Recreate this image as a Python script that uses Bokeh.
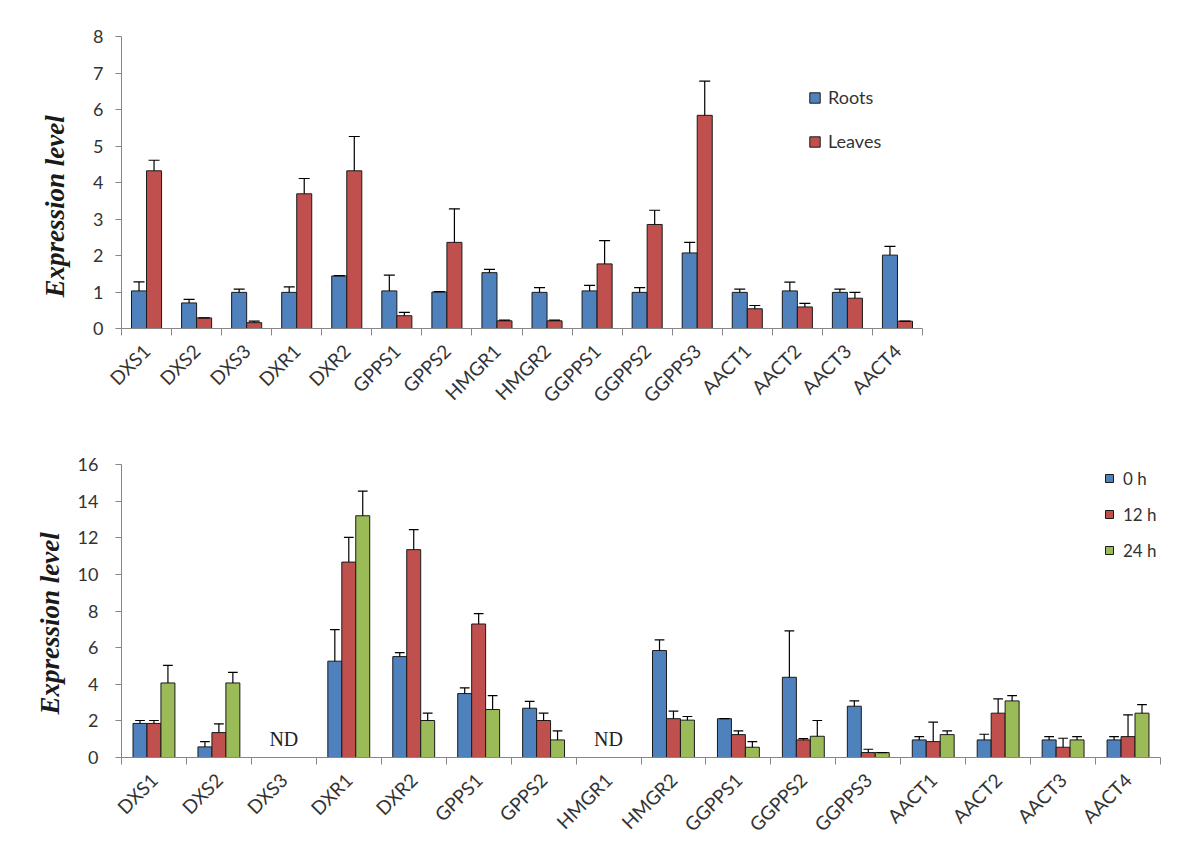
import numpy as np
from bokeh.plotting import figure
from bokeh.layouts import column
from bokeh.models import Range1d, FixedTicker, Legend, LegendItem, ColumnDataSource, Title
from bokeh.core.properties import value
from bokeh.embed import file_html
from bokeh.resources import INLINE

# ---------------- data ----------------
genes_top = ["DXS1", "DXS2", "DXS3", "DXR1", "DXR2", "GPPS1", "GPPS2", "HMGR1",
             "HMGR2", "GGPPS1", "GGPPS2", "GGPPS3", "AACT1", "AACT2", "AACT3", "AACT4"]
roots = [1.03, 0.70, 0.99, 0.99, 1.44, 1.03, 1.00, 1.53, 0.99, 1.03, 0.99, 2.07, 0.99, 1.03, 0.99, 2.01]
roots_err = [1.28, 0.80, 1.08, 1.14, 1.45, 1.46, 1.01, 1.62, 1.12, 1.18, 1.12, 2.36, 1.08, 1.27, 1.08, 2.25]
leaves = [4.32, 0.29, 0.16, 3.69, 4.32, 0.35, 2.36, 0.21, 0.21, 1.77, 2.85, 5.84, 0.54, 0.59, 0.83, 0.20]
leaves_err = [4.61, 0.29, 0.20, 4.11, 5.26, 0.44, 3.28, 0.23, 0.23, 2.41, 3.24, 6.78, 0.63, 0.69, 0.99, 0.20]

genes_bot = ["DXS1", "DXS2", "DXS3", "DXR1", "DXR2", "GPPS1", "GPPS2", "HMGR1",
             "HMGR2", "GGPPS1", "GGPPS2", "GGPPS3", "AACT1", "AACT2", "AACT3", "AACT4"]
nd = float("nan")
h0 = [1.86, 0.58, nd, 5.26, 5.51, 3.49, 2.69, nd, 5.84, 2.12, 4.38, 2.80, 0.96, 0.96, 0.96, 0.96]
h0_err = [2.02, 0.87, nd, 6.98, 5.73, 3.80, 3.07, nd, 6.42, 2.12, 6.91, 3.09, 1.14, 1.27, 1.14, 1.14]
h12 = [1.86, 1.36, nd, 10.67, 11.35, 7.29, 2.02, nd, 2.12, 1.25, 0.96, 0.27, 0.87, 2.42, 0.56, 1.14]
h12_err = [2.02, 1.84, nd, 12.02, 12.44, 7.86, 2.42, nd, 2.53, 1.45, 1.03, 0.45, 1.93, 3.20, 1.05, 2.33]
h24 = [4.07, 4.07, nd, 13.20, 2.02, 2.62, 0.96, nd, 2.04, 0.56, 1.16, 0.27, 1.25, 3.09, 0.96, 2.42]
h24_err = [5.03, 4.65, nd, 14.55, 2.42, 3.38, 1.45, nd, 2.24, 0.87, 2.02, 0.27, 1.45, 3.38, 1.14, 2.89]
nd_genes = ["DXS3", "HMGR1"]
nd_level = 1.0

BLUE, RED, GREEN = "#4F81BD", "#C0504D", "#9BBB59"
TICK_FONT = "Lato"
AXIS_COLOR = "#868686"
TEXT_COLOR = "#333333"


def style_axes(p, labels, fs_tick, standoff_y, label_offset, label_standoff):
    n = len(labels)
    centers = [i + 0.5 for i in range(n)]
    bounds = list(range(n + 1))
    xa = p.xaxis[0]
    xa.ticker = FixedTicker(ticks=centers, minor_ticks=bounds)
    xa.major_label_overrides = {c: lab for c, lab in zip(centers, labels)}
    xa.major_tick_out = 0
    xa.major_tick_in = 0
    xa.minor_tick_out = 7
    xa.minor_tick_in = 0
    xa.major_label_orientation = np.pi / 4
    xa.major_label_standoff = 12
    for ax in (p.xaxis[0], p.yaxis[0]):
        ax.axis_line_color = AXIS_COLOR
        ax.major_tick_line_color = AXIS_COLOR
        ax.minor_tick_line_color = AXIS_COLOR
        ax.major_label_text_font = TICK_FONT
        ax.major_label_text_color = TEXT_COLOR
    xa.major_label_text_font_size = fs_tick
    ya = p.yaxis[0]
    ya.major_label_text_font_size = "18px"
    ya.major_tick_out = 6
    ya.major_tick_in = 0
    ya.minor_tick_out = 0
    ya.minor_tick_in = 0
    ya.major_label_standoff = standoff_y
    p.add_layout(Title(text="Expression level", align="left", offset=label_offset,
                       text_font="Liberation Serif", text_font_style="bold italic",
                       text_font_size="27px", text_color="#1a1a1a",
                       standoff=label_standoff), "left")
    p.xgrid.visible = False
    p.ygrid.visible = False
    p.outline_line_color = None


def draw_series(p, xs, vals, errs, color, width, cap):
    src = ColumnDataSource(dict(x=xs, top=vals, err=errs,
                                x0=[x - cap for x in xs], x1=[x + cap for x in xs]))
    r = p.vbar(x="x", top="top", bottom=0, width=width, source=src,
               fill_color=color, line_color="#1a1a1a", line_width=1)
    p.segment(x0="x", y0="top", x1="x", y1="err", source=src, line_color="black", line_width=1.2)
    p.segment(x0="x0", y0="err", x1="x1", y1="err", source=src, line_color="black", line_width=1.2)
    return r


# ---------------- top chart ----------------
n1 = len(genes_top)
top = figure(width=946, height=447, x_range=Range1d(0, n1), y_range=Range1d(0, 8),
             output_backend="svg", toolbar_location=None,
             min_border_left=116, min_border_right=24, min_border_top=36, min_border_bottom=119)
bw1 = 0.3
xs_r = [i + 0.5 - bw1 / 2 for i in range(n1)]
xs_l = [i + 0.5 + bw1 / 2 for i in range(n1)]
r_roots = draw_series(top, xs_r, roots, roots_err, BLUE, bw1, 0.11)
r_leaves = draw_series(top, xs_l, leaves, leaves_err, RED, bw1, 0.11)
style_axes(top, genes_top, "19px", 12, 31, 42)
top.yaxis[0].ticker = FixedTicker(ticks=list(range(0, 9)))

leg1 = Legend(items=[LegendItem(label="Roots", renderers=[r_roots]),
                     LegendItem(label="Leaves", renderers=[r_leaves])],
              location=(687, 176), glyph_width=13, glyph_height=13, label_height=20,
              spacing=22, padding=0, margin=0, label_standoff=7,
              label_text_font=TICK_FONT, label_text_font_size="18px",
              label_text_color=TEXT_COLOR, border_line_alpha=0, background_fill_alpha=0)
top.add_layout(leg1)

# ---------------- bottom chart ----------------
n2 = len(genes_bot)
bot = figure(width=1184, height=399, x_range=Range1d(0, n2), y_range=Range1d(0, 16),
             output_backend="svg", toolbar_location=None,
             min_border_left=121, min_border_right=15, min_border_top=17, min_border_bottom=87)
bw2 = 0.215
xs0 = [i + 0.5 - bw2 for i in range(n2)]
xs12 = [i + 0.5 for i in range(n2)]
xs24 = [i + 0.5 + bw2 for i in range(n2)]
r0 = draw_series(bot, xs0, h0, h0_err, BLUE, bw2, 0.075)
r12 = draw_series(bot, xs12, h12, h12_err, RED, bw2, 0.075)
r24 = draw_series(bot, xs24, h24, h24_err, GREEN, bw2, 0.075)
style_axes(bot, genes_bot, "19px", 17, 43, 19)
bot.yaxis[0].ticker = FixedTicker(ticks=list(range(0, 17, 2)))

nd_x = [genes_bot.index(g) + 0.5 for g in nd_genes]
bot.text(x=nd_x, y=[nd_level] * len(nd_x), text=["ND"] * len(nd_x),
         text_font=value("Liberation Serif"), text_font_size="20px",
         text_color="#222222", text_align="center", text_baseline="middle")

leg2 = Legend(items=[LegendItem(label="0 h", renderers=[r0]),
                     LegendItem(label="12 h", renderers=[r12]),
                     LegendItem(label="24 h", renderers=[r24])],
              location=(983, 196), glyph_width=10, glyph_height=10, label_height=22,
              spacing=14, padding=0, margin=0, label_standoff=9,
              label_text_font=TICK_FONT, label_text_font_size="17px",
              label_text_color=TEXT_COLOR, border_line_alpha=0, background_fill_alpha=0)
bot.add_layout(leg2)

layout = column(top, bot)
open("out.html", "w").write(file_html(layout, INLINE))
